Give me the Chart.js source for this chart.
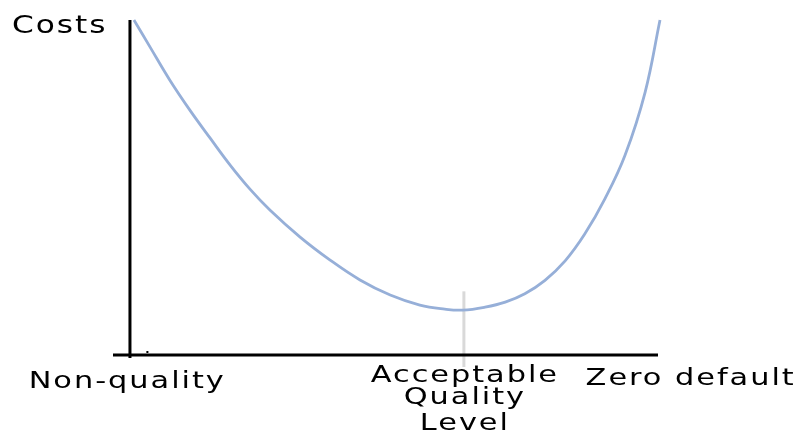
<!DOCTYPE html>
<html>
<head>
<meta charset="utf-8">
<script src="https://cdn.jsdelivr.net/npm/chart.js@4"></script>
<style>
  body { margin: 0; background: #fff; }
</style>
</head>
<body>
<canvas id="myChart" width="798" height="434"></canvas>
<script>
// quality level (x) and cost (y)
var levels = [0.75, 3.8, 7.5, 11.3, 15.1, 18.9, 22.6, 26.4, 32.1, 37.7, 43.4, 49.1, 54.7, 59.4, 62.8,
              67.0, 70.8, 74.5, 78.3, 82.1, 85.8, 89.6, 93.4, 97.2, 100];
var costs = [100, 91.9, 82.1, 73.1, 64.8, 56.7, 49.6, 43.3, 35.2, 28.4, 22.4, 17.9, 14.9, 13.7, 13.4,
             14.3, 15.8, 18.3, 22.3, 28.1, 36.1, 46.6, 59.6, 78.5, 100];

// axis labels
var yTitle = 'Costs';
var tickLabels = [['Non-quality'], ['Acceptable', 'Quality', 'Level'], ['Zero default']];
var tickPositions = [-0.7, 63, 105.6];
var acceptableLevel = 63;

function stretchText(ctx, text, x, y, sx, align) {
    ctx.save();
    ctx.letterSpacing = '1.5px';
    var w = ctx.measureText(text).width - 1.5;
    var left = align === 'left' ? x : x - w * sx / 2;
    ctx.translate(left, y);
    ctx.scale(sx, 1);
    ctx.textAlign = 'left';
    ctx.fillText(text, 0, 0);
    ctx.restore();
}

var axesPlugin = {
    id: 'axesPlugin',
    beforeDatasetsDraw: function(chart) {
        var ctx = chart.ctx;
        var xs = chart.scales.x, ys = chart.scales.y;
        var area = chart.chartArea;
        var x0 = xs.getPixelForValue(0);
        var yBase = ys.getPixelForValue(0);
        ctx.save();
        // marker for the acceptable quality level
        var xa = xs.getPixelForValue(acceptableLevel);
        ctx.strokeStyle = '#d9d9d9';
        ctx.lineWidth = 3;
        ctx.beginPath();
        ctx.moveTo(xa, ys.getPixelForValue(19));
        ctx.lineTo(xa, yBase + 12);
        ctx.stroke();
        // axes
        ctx.strokeStyle = '#000';
        ctx.lineWidth = 3;
        ctx.beginPath();
        ctx.moveTo(x0, area.top);
        ctx.lineTo(x0, yBase + 3);
        ctx.moveTo(area.left, yBase);
        ctx.lineTo(area.right - 2, yBase);
        ctx.stroke();
        ctx.fillStyle = '#000';
        ctx.fillRect(xs.getPixelForValue(3.1), yBase - 4, 2, 2);
        ctx.restore();
    },
    afterDraw: function(chart) {
        var ctx = chart.ctx;
        var xs = chart.scales.x, ys = chart.scales.y;
        var yBase = ys.getPixelForValue(0);
        ctx.save();
        ctx.fillStyle = '#000';
        ctx.textBaseline = 'alphabetic';
        ctx.font = '24px "DejaVu Sans"';
        stretchText(ctx, yTitle, 12, 33, 1.3, 'left');
        ctx.font = '23px "DejaVu Sans"';
        var baselines = [[33], [27, 49, 75], [30]];
        tickLabels.forEach(function(lines, i) {
            var cx = xs.getPixelForValue(tickPositions[i]);
            lines.forEach(function(line, j) {
                stretchText(ctx, line, cx, yBase + baselines[i][j], 1.32, 'center');
            });
        });
        ctx.restore();
    }
};

var ctx = document.getElementById('myChart').getContext('2d');
var chart = new Chart(ctx, {
    type: 'line',
    data: {
        datasets: [{
            label: yTitle,
            data: levels.map(function(v, i) { return { x: v, y: costs[i] }; }),
            borderColor: 'rgb(150, 175, 216)',
            borderWidth: 2.8,
            pointRadius: 0,
            tension: 0.4,
            clip: false,
            fill: false
        }]
    },
    options: {
        responsive: false,
        animation: false,
        devicePixelRatio: 1,
        layout: { padding: { left: 113, right: 138, top: 20, bottom: 79 } },
        plugins: {
            legend: { display: false },
            tooltip: { enabled: false }
        },
        scales: {
            x: { type: 'linear', min: -3.2, max: 100, display: false },
            y: { min: 0, max: 100, display: false }
        }
    },
    plugins: [axesPlugin]
});
</script>
</body>
</html>
